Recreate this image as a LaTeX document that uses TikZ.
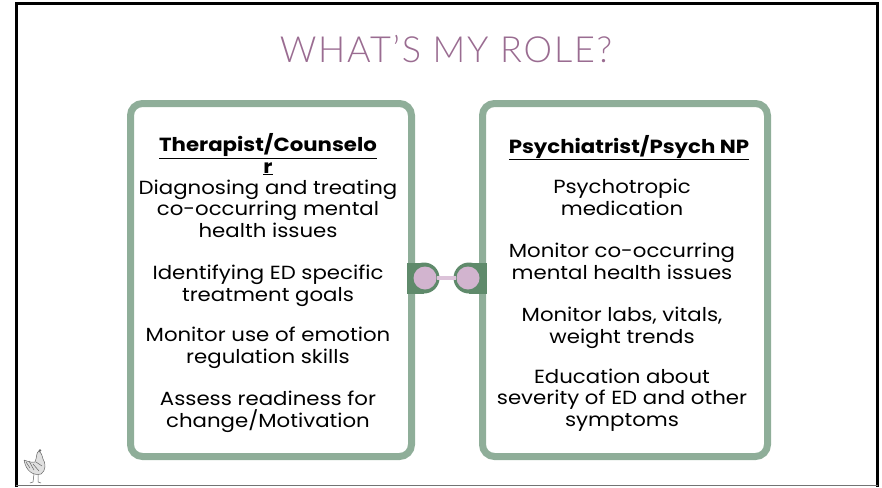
\documentclass[tikz,border=0pt]{standalone}
\usepackage{fontspec}
\setmainfont{Poppins}[FakeStretch=1.12]
\newfontfamily\titlefont[LetterSpace=5]{Lato Light}

\definecolor{sage}{HTML}{8FAE99}
\definecolor{tabgreen}{HTML}{5F8A6B}
\definecolor{knobpink}{HTML}{D2B4CF}
\definecolor{barpink}{HTML}{DCC3D9}
\definecolor{mauve}{HTML}{9A6C91}

\tikzset{
  frame/.style={draw=sage,line width=7pt,rounded corners=12pt},
  heading/.style={anchor=base,inner sep=0pt,align=center,font=\fontsize{19}{21.2}\selectfont\bfseries},
  item/.style={anchor=base,inner sep=0pt,align=center,font=\fontsize{19}{21.2}\selectfont},
  knob/.style={circle,fill=knobpink,minimum size=23pt,inner sep=0pt}
}

\begin{document}
\begin{tikzpicture}[x=1pt,y=-1pt]
\useasboundingbox (0,0) rectangle (882,487);
% slide edge
\draw[line width=3pt] (16,487) -- (16,4) -- (877.5,4) -- (877.5,487);
\draw[black!55,line width=1pt] (16,485.5) -- (877.5,485.5);

\node[anchor=base,inner sep=0pt,text=mauve,font=\titlefont\fontsize{36}{38}\selectfont] (title) at (446,63) {WHAT’S MY ROLE?};

% the two boxes
\draw[frame] (130.5,103.5) rectangle (411.5,456.5);
\draw[frame] (482.5,103.5) rectangle (767.5,456.5);

% link between the boxes
\fill[tabgreen] (407,262.5) rectangle (424,293.5);
\fill[tabgreen] (424,278) circle[radius=15.5];
\fill[tabgreen] (469,262.5) rectangle (487,293.5);
\fill[tabgreen] (469,278) circle[radius=15.5];
\node[knob] (lknob) at (425,278) {};
\node[knob] (rknob) at (468,278) {};
\draw[barpink,line width=4pt] (lknob) -- (rknob);

% therapist column (base = last line)
\node[heading] (thhead) at (268,173) {\underline{Therapist/Counselo}\\\underline{r}};
\node[item] (th1) at (268,237) {Diagnosing and treating\\co-occurring mental\\health issues};
\node[item] (th2) at (268,301) {Identifying ED specific\\treatment goals};
\node[item] (th3) at (268,363) {Monitor use of emotion\\regulation skills};
\node[item] (th4) at (268,427) {Assess readiness for\\change/Motivation};

% psychiatrist column
\node[heading] (pshead) at (629,153) {\underline{Psychiatrist/Psych NP}};
\node[item] (ps1) at (622,215) {Psychotropic\\medication};
\node[item] (ps2) at (622,279) {Monitor co-occurring\\mental health issues};
\node[item] (ps3) at (622,343) {Monitor labs, vitals,\\weight trends};
\node[item] (ps4) at (622,426) {Education about\\severity of ED and other\\symptoms};

% little hen in the corner
\begin{scope}[draw=black!60,line width=0.5pt]
\draw[fill=black!12] (24,460) .. controls (26,471) and (33,476) .. (41,474)
  .. controls (46,471) and (46,463) .. (43,459) .. controls (42,455) and (41,452) .. (39,451)
  .. controls (36,452) and (37,458) .. (35,462) .. controls (31,463) and (27,461) .. (24,460);
\fill[black!60] (40,450.5) circle[radius=1.3];
\draw (26,462) -- (30,468) (29,461) -- (34,470) (33,464) -- (39,471) (36,462) -- (42,466);
\draw (34,474) -- (33,482) -- (30,483) (38,474) -- (38,482) -- (41,483);
\end{scope}
\end{tikzpicture}
\end{document}
